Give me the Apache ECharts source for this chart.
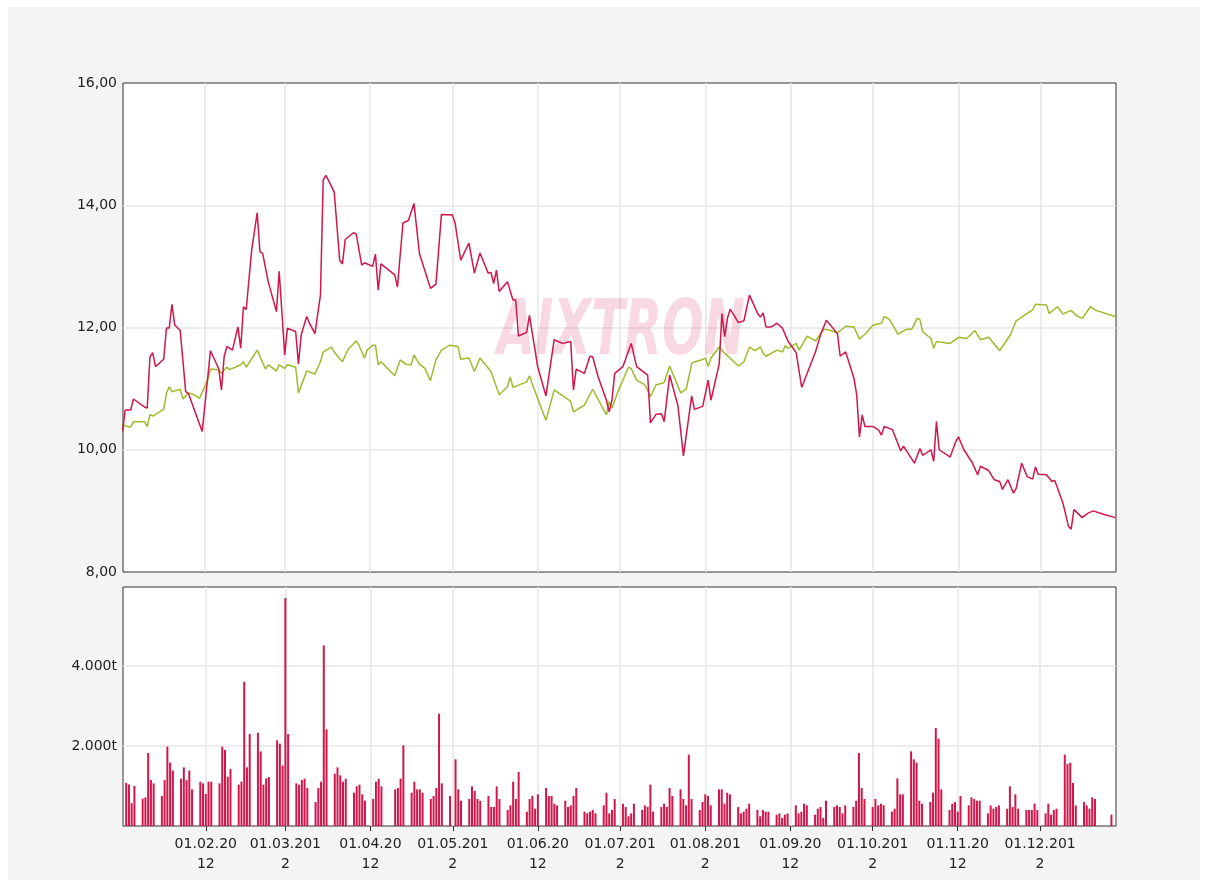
<!DOCTYPE html>
<html>
<head>
<meta charset="utf-8">
<script src="https://cdn.jsdelivr.net/npm/echarts@6/dist/echarts.min.js"></script>
<style>
  html, body { margin: 0; padding: 0; background: #fff; }
  #panel { position: absolute; left: 8px; top: 7px; width: 1192px; height: 873px; background: #f4f4f4; }
  #chart { position: absolute; left: 0; top: 0; width: 1206px; height: 886px; }
</style>
</head>
<body>
<div id="panel"></div>
<div id="chart"></div>
<script>
// Kurs AIXTRON vs. Index, 2012 (x = Tag im Jahr, 0 = 01.01.2012)
var tickLabels = ['', '01.02.20\n12', '01.03.201\n2', '01.04.20\n12', '01.05.201\n2', '01.06.20\n12',
    '01.07.201\n2', '01.08.201\n2', '01.09.20\n12', '01.10.201\n2', '01.11.20\n12', '01.12.201\n2'];

var aixtron = [[1,10.30],[2,10.65],[4,10.65],[5,10.83],[9,10.70],[10,10.68],[11,11.52],[12,11.59],[13,11.36],[16,11.48],
    [17,11.99],[18,11.99],[19,12.38],[20,12.04],[22,11.95],[24,10.95],[25,10.92],[30,10.30],[33,11.62],[36,11.33],
    [37,10.98],[38,11.53],[39,11.69],[41,11.63],[43,12.01],[44,11.66],[45,12.34],[46,12.29],[48,13.27],[50,13.88],
    [51,13.24],[52,13.21],[54,12.75],[57,12.26],[58,12.92],[60,11.55],[61,11.99],[64,11.93],[65,11.40],[66,11.88],
    [68,12.18],[69,12.07],[71,11.90],[73,12.53],[74,14.41],[75,14.49],[78,14.22],[80,13.10],[81,13.04],[82,13.44],
    [85,13.55],[86,13.53],[88,13.02],[89,13.06],[92,13.00],[93,13.20],[94,12.61],[95,13.04],[100,12.86],[101,12.66],
    [103,13.71],[105,13.75],[106,13.89],[107,14.03],[109,13.21],[113,12.64],[115,12.71],[117,13.85],[121,13.84],[122,13.70],
    [124,13.10],[127,13.38],[129,12.89],[131,13.22],[134,12.89],[135,12.90],[136,12.72],[137,12.94],[138,12.59],[141,12.75],
    [143,12.45],[144,12.45],[145,11.86],[148,11.92],[149,12.20],[152,11.36],[155,10.88],[158,11.80],[161,11.74],[164,11.77],
    [165,10.98],[166,11.32],[169,11.25],[171,11.53],[172,11.52],[174,11.19],[177,10.81],[178,10.62],[179,10.81],[180,11.25],
    [183,11.36],[186,11.74],[188,11.36],[192,11.22],[193,10.44],[195,10.58],[197,10.59],[198,10.46],[200,11.22],[203,10.72],
    [205,9.90],[208,10.88],[209,10.66],[212,10.71],[214,11.14],[215,10.81],[218,11.40],[219,12.23],[220,11.85],[221,12.15],
    [222,12.30],[225,12.08],[227,12.11],[229,12.53],[232,12.23],[233,12.17],[234,12.24],[235,12.01],[237,12.01],[239,12.07],
    [241,11.99],[243,11.78],[246,11.59],[248,11.02],[250,11.25],[253,11.60],[255,11.90],[257,12.12],[261,11.90],[262,11.53],
    [264,11.60],[267,11.17],[268,10.90],[269,10.21],[270,10.57],[271,10.38],[274,10.38],[276,10.32],[277,10.24],[278,10.38],
    [281,10.33],[284,9.98],[285,10.06],[289,9.78],[291,10.02],[292,9.91],[295,10.00],[296,9.81],[297,10.46],[298,10.00],
    [302,9.88],[304,10.13],[305,10.21],[307,10.00],[310,9.79],[312,9.59],[313,9.73],[316,9.66],[318,9.51],[320,9.48],
    [321,9.35],[323,9.51],[325,9.29],[326,9.37],[328,9.78],[330,9.56],[332,9.52],[333,9.72],[334,9.60],[337,9.59],
    [339,9.48],[340,9.50],[343,9.13],[345,8.75],[346,8.70],[347,9.02],[350,8.89],[352,8.96],[354,9.00],[358,8.94],[362,8.89]];

var vergleich = [[1,10.43],[2,10.39],[4,10.37],[5,10.46],[9,10.46],[10,10.38],[11,10.58],[12,10.55],[16,10.66],[17,10.92],
    [18,11.03],[19,10.95],[22,10.99],[23,10.83],[25,10.93],[27,10.90],[29,10.84],[32,11.14],[33,11.32],[36,11.31],
    [37,11.25],[39,11.35],[40,11.31],[44,11.39],[45,11.44],[46,11.35],[50,11.63],[53,11.32],[54,11.39],[57,11.29],
    [58,11.39],[60,11.33],[61,11.39],[64,11.35],[65,10.93],[68,11.29],[71,11.24],[73,11.44],[74,11.60],[77,11.68],
    [78,11.60],[81,11.44],[83,11.64],[86,11.78],[87,11.71],[89,11.50],[90,11.63],[92,11.71],[93,11.71],[94,11.39],
    [95,11.44],[100,11.21],[102,11.47],[104,11.40],[106,11.39],[107,11.55],[109,11.40],[111,11.33],[113,11.13],[115,11.47],
    [117,11.63],[120,11.71],[123,11.69],[124,11.48],[127,11.50],[129,11.28],[131,11.50],[135,11.28],[138,10.90],[141,11.03],
    [142,11.19],[143,11.02],[148,11.11],[149,11.21],[150,11.08],[155,10.48],[158,10.98],[164,10.79],[165,10.62],[169,10.73],
    [172,10.99],[177,10.57],[178,10.79],[179,10.68],[181,10.93],[185,11.35],[186,11.33],[188,11.14],[191,11.06],[193,10.87],
    [195,11.06],[198,11.10],[200,11.37],[204,10.93],[206,10.99],[208,11.41],[209,11.44],[211,11.46],[213,11.50],[214,11.36],
    [215,11.50],[218,11.68],[220,11.58],[225,11.37],[227,11.44],[229,11.68],[231,11.62],[233,11.68],[234,11.58],[235,11.53],
    [239,11.63],[241,11.60],[242,11.70],[243,11.66],[246,11.74],[247,11.63],[250,11.86],[253,11.78],[256,11.97],[258,11.96],
    [261,11.91],[264,12.02],[267,12.01],[269,11.81],[271,11.89],[274,12.04],[277,12.07],[278,12.18],[280,12.13],[283,11.89],
    [286,11.97],[288,11.97],[290,12.15],[291,12.13],[292,11.93],[295,11.82],[296,11.66],[297,11.77],[302,11.74],[305,11.84],
    [308,11.82],[311,11.95],[313,11.80],[316,11.84],[320,11.62],[324,11.89],[326,12.11],[330,12.23],[332,12.29],[333,12.38],
    [337,12.37],[338,12.23],[341,12.34],[343,12.22],[346,12.28],[348,12.19],[350,12.15],[353,12.34],[355,12.28],[362,12.18]];

// Umsatz in Tsd. Stueck, je Woche Mo-Fr (erste Woche beginnt Mo 02.01.2012)
var umsatzWochen = [
    [null,1080,1040,570,1000],[683,717,1825,1150,1066],[750,1150,1983,1583,1383],[1183,1466,1150,1383,916],
    [1108,1066,800,1108,1108],[1066,1983,1900,1233,1425],[1033,1108,3607,1466,2300],[2333,1866,1033,1191,1225],
    [2141,2058,1508,5698,2300],[1066,1033,1150,1183,950],[600,950,1108,4515,2416],[1308,1466,1266,1108,1183],
    [833,991,1033,791,633],[675,1108,1183,991,null],[null,916,950,1183,2016],[833,1108,916,916,833],
    [675,750,950,2807,1066],[750,null,1666,916,633],[675,991,875,675,633],[750,475,475,991,675],
    [400,516,1108,675,1350],[358,675,750,433,791],[950,750,750,558,516],[633,475,516,750,950],
    [358,316,358,400,316],[516,833,316,400,675],[558,475,242,316,558],[400,516,475,1033,358],
    [475,558,475,950,750],[916,675,516,1783,675],[400,600,791,750,516],[916,916,558,833,791],
    [475,316,358,433,558],[400,242,400,358,358],[283,316,200,283,316],[516,316,358,558,516],
    [283,433,475,200,633],[475,516,475,316,516],[475,633,1825,950,675],[475,675,516,558,516],
    [358,433,1191,791,791],[1866,1666,1583,633,558],[600,833,2449,2183,916],[400,558,600,358,750],
    [516,717,675,633,633],[316,516,433,475,516],[433,991,475,791,433],[400,400,400,558,400],
    [316,558,283,400,433],[1783,1549,1583,1075,516],[600,516,433,717,675],[null,null,null,283,null]
];

var chart = echarts.init(document.getElementById('chart'));

var day0 = new Date(2012, 0, 1).getTime();
function ts(d) { return day0 + d * 86400000; }

var umsatz = [];
umsatzWochen.forEach(function (woche, w) {
    woche.forEach(function (v, i) {
        if (v !== null) umsatz.push([ts(1 + 7 * w + i), v]);
    });
});

var gridLine = { show: true, showMinLine: false, showMaxLine: false, lineStyle: { color: '#e6e6e6', width: 1.5 } };
var labelFont = { fontFamily: 'DejaVu Sans', fontSize: 14, color: '#222' };
var month = 31 * 86400000;

option = {
    animation: false,
    backgroundColor: 'transparent',
    grid: [
        { left: 123, top: 83, width: 993, height: 489, show: true, backgroundColor: '#fff', borderColor: '#333', borderWidth: 1 },
        { left: 123, top: 587, width: 993, height: 239, show: true, backgroundColor: '#fff', borderColor: '#333', borderWidth: 1 }
    ],
    graphic: [{
        type: 'text',
        left: 497,
        top: 296,
        z: 1,
        scaleY: 1.55,
        style: {
            text: 'AIXTRON',
            font: 'italic bold 49px "DejaVu Sans"',
            fill: 'rgba(220,50,100,0.19)'
        }
    }],
    xAxis: [
        {
            type: 'time', gridIndex: 0, min: ts(1.2), max: ts(362.3),
            minInterval: 28 * 86400000, maxInterval: month, splitNumber: 12,
            axisLine: { show: false }, axisTick: { show: false }, axisLabel: { show: false },
            splitLine: gridLine
        },
        {
            type: 'time', gridIndex: 1, min: ts(1.2), max: ts(362.3),
            minInterval: 28 * 86400000, maxInterval: month, splitNumber: 12,
            axisLine: { show: false },
            axisTick: { show: true, length: 5, lineStyle: { color: '#333' } },
            axisLabel: Object.assign({
                margin: 8, lineHeight: 20, showMinLabel: false, showMaxLabel: false,
                hideOverlap: false,
                formatter: function (v) { return tickLabels[new Date(v).getMonth()]; }
            }, labelFont),
            splitLine: gridLine
        }
    ],
    yAxis: [
        {
            type: 'value', gridIndex: 0, min: 8, max: 16, interval: 2,
            axisLine: { show: false }, axisTick: { show: false },
            axisLabel: Object.assign({ margin: 6, formatter: function (v) { return v.toFixed(2).replace('.', ','); } }, labelFont),
            splitLine: gridLine
        },
        {
            type: 'value', gridIndex: 1, min: 0, max: 5975, interval: 2000,
            axisLine: { show: false }, axisTick: { show: false },
            axisLabel: Object.assign({ margin: 6, formatter: function (v) {
                return (v > 0 && v % 2000 === 0) ? (v / 1000) + '.000t' : '';
            } }, labelFont),
            splitLine: gridLine
        }
    ],
    series: [
        {
            name: 'Index', type: 'line', xAxisIndex: 0, yAxisIndex: 0, z: 3,
            showSymbol: false, lineStyle: { color: '#9cbb2e', width: 1.5 },
            data: vergleich.map(function (p) { return [ts(p[0]), p[1]]; })
        },
        {
            name: 'AIXTRON', type: 'line', xAxisIndex: 0, yAxisIndex: 0, z: 4,
            showSymbol: false, lineStyle: { color: '#d0164a', width: 1.5 },
            data: aixtron.map(function (p) { return [ts(p[0]), p[1]]; })
        },
        {
            name: 'Umsatz', type: 'bar', xAxisIndex: 1, yAxisIndex: 1,
            barWidth: 2, itemStyle: { color: '#d0164a' },
            data: umsatz
        }
    ]
};

chart.setOption(option);
</script>
</body>
</html>
